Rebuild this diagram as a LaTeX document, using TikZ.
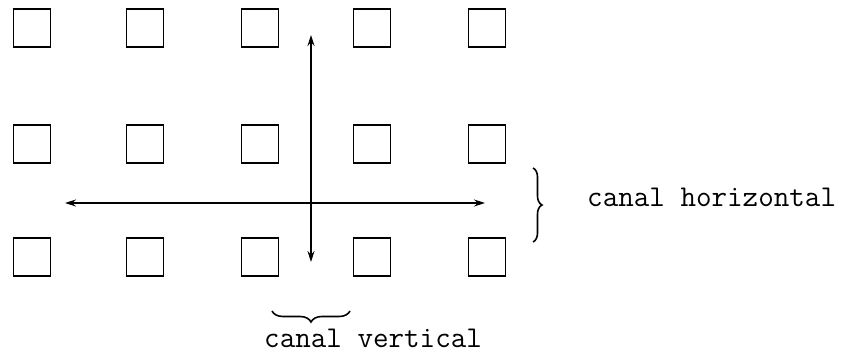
\documentclass[tikz,border=0pt]{standalone}
\usepackage{fontspec}
\usetikzlibrary{arrows.meta,decorations.pathreplacing}
\begin{document}
\begin{tikzpicture}[x=1pt,y=1pt,
  cell/.style={draw,line width=1.6pt,minimum width=37pt,minimum height=38pt,inner sep=0pt},
  chan/.style={line width=1.1pt,{Stealth[length=11pt,width=7pt]}-{Stealth[length=11pt,width=7pt]}},
  bracestyle/.style={line width=1.6pt,decorate,decoration={brace,amplitude=#1}},
  lbl/.style={font=\ttfamily\fontsize{30.2}{35}\selectfont,inner sep=0pt}]
\useasboundingbox (0,0) rectangle (853,356);
\foreach \c/\x in {1/32,2/145,3/260,4/372,5/487}{
  \foreach \r/\y in {1/328,2/212,3/99}{
    \node[cell] (s\r\c) at (\x,\y) {};
  }
}
\coordinate (hl) at (65,153);
\coordinate (hr) at (485,153);
\coordinate (vt) at (311,321);
\coordinate (vb) at (311,94);
\draw[chan] (hl) -- (hr);
\draw[chan] (vt) -- (vb);
\coordinate (rbt) at (533,188);
\coordinate (rbb) at (533,114);
\draw[bracestyle=9pt] (rbt) -- (rbb);
\coordinate (bbl) at (272,45);
\coordinate (bbr) at (350,45);
\draw[bracestyle=11pt] (bbr) -- (bbl);
\node[lbl,anchor=base west] (th) at (587,149) {canal horizontal};
\node[lbl,anchor=base west] (tv) at (264,9) {canal vertical};
\end{tikzpicture}
\end{document}
